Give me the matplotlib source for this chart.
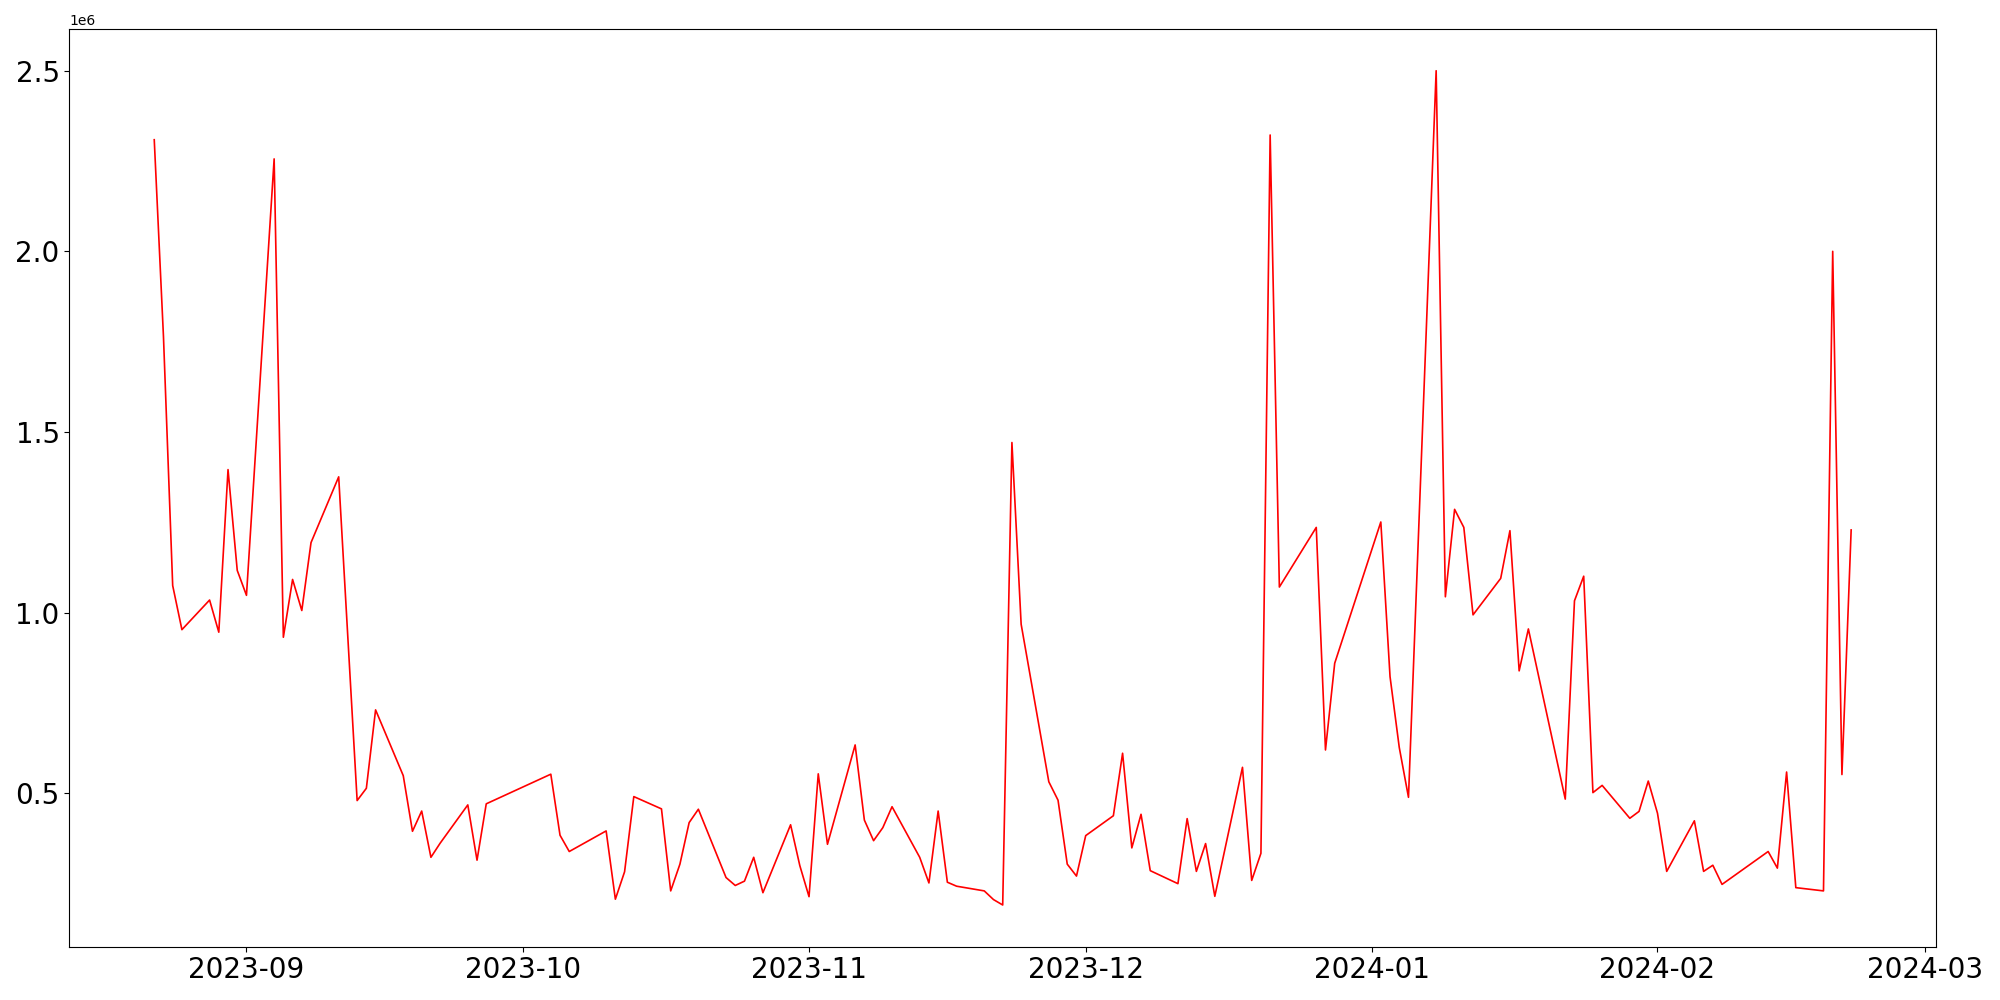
import matplotlib
matplotlib.use('Agg')
import matplotlib.pyplot as plt
import pandas as pd

dates = [
    '2023-08-22', '2023-08-23', '2023-08-24', '2023-08-25', '2023-08-28', '2023-08-29',
    '2023-08-30', '2023-08-31', '2023-09-01', '2023-09-04', '2023-09-05', '2023-09-06',
    '2023-09-07', '2023-09-08', '2023-09-11', '2023-09-13', '2023-09-14', '2023-09-15',
    '2023-09-18', '2023-09-19', '2023-09-20', '2023-09-21', '2023-09-22', '2023-09-25',
    '2023-09-26', '2023-09-27', '2023-10-04', '2023-10-05', '2023-10-06', '2023-10-10',
    '2023-10-11', '2023-10-12', '2023-10-13', '2023-10-16', '2023-10-17', '2023-10-18',
    '2023-10-19', '2023-10-20', '2023-10-23', '2023-10-24', '2023-10-25', '2023-10-26',
    '2023-10-27', '2023-10-30', '2023-10-31', '2023-11-01', '2023-11-02', '2023-11-03',
    '2023-11-06', '2023-11-07', '2023-11-08', '2023-11-09', '2023-11-10', '2023-11-13',
    '2023-11-14', '2023-11-15', '2023-11-16', '2023-11-17', '2023-11-20', '2023-11-21',
    '2023-11-22', '2023-11-23', '2023-11-24', '2023-11-27', '2023-11-28', '2023-11-29',
    '2023-11-30', '2023-12-01', '2023-12-04', '2023-12-05', '2023-12-06', '2023-12-07',
    '2023-12-08', '2023-12-11', '2023-12-12', '2023-12-13', '2023-12-14', '2023-12-15',
    '2023-12-18', '2023-12-19', '2023-12-20', '2023-12-21', '2023-12-22', '2023-12-26',
    '2023-12-27', '2023-12-28', '2024-01-02', '2024-01-03', '2024-01-04', '2024-01-05',
    '2024-01-08', '2024-01-09', '2024-01-10', '2024-01-11', '2024-01-12', '2024-01-15',
    '2024-01-16', '2024-01-17', '2024-01-18', '2024-01-22', '2024-01-23', '2024-01-24',
    '2024-01-25', '2024-01-26', '2024-01-29', '2024-01-30', '2024-01-31', '2024-02-01',
    '2024-02-02', '2024-02-05', '2024-02-06', '2024-02-07', '2024-02-08', '2024-02-13',
    '2024-02-14', '2024-02-15', '2024-02-16', '2024-02-19', '2024-02-20', '2024-02-21',
    '2024-02-22',
]

# values in millions
volume_m = [
    2.309, 1.764, 1.075, 0.953, 1.035, 0.946,
    1.396, 1.117, 1.048, 2.256, 0.932, 1.092,
    1.006, 1.194, 1.376, 0.480, 0.514, 0.731,
    0.549, 0.395, 0.451, 0.323, 0.362, 0.468,
    0.315, 0.471, 0.553, 0.384, 0.339, 0.396,
    0.207, 0.283, 0.491, 0.457, 0.230, 0.304,
    0.419, 0.456, 0.267, 0.245, 0.257, 0.323,
    0.225, 0.413, 0.300, 0.214, 0.554, 0.359,
    0.634, 0.426, 0.369, 0.405, 0.463, 0.323,
    0.252, 0.451, 0.254, 0.243, 0.230, 0.206,
    0.191, 1.471, 0.968, 0.532, 0.481, 0.304,
    0.271, 0.383, 0.438, 0.611, 0.349, 0.442,
    0.286, 0.250, 0.430, 0.284, 0.361, 0.215,
    0.572, 0.259, 0.334, 2.322, 1.071, 1.236,
    0.620, 0.860, 1.251, 0.823, 0.627, 0.489,
    2.500, 1.044, 1.286, 1.236, 0.994, 1.095,
    1.227, 0.839, 0.955, 0.484, 1.033, 1.101,
    0.502, 0.522, 0.431, 0.450, 0.534, 0.445,
    0.284, 0.424, 0.284, 0.301, 0.248, 0.339,
    0.293, 0.559, 0.239, 0.230, 2.000, 0.552,
    1.229,
]

x = pd.to_datetime(dates)
y = [v * 1e6 for v in volume_m]

fig = plt.figure(figsize=(20, 10), dpi=100)
plt.plot(x, y, color='red', linewidth=1.2)
plt.xticks(fontsize=20)
plt.yticks(fontsize=20)
plt.subplots_adjust(left=0.0347, right=0.968, top=0.971, bottom=0.0533)
plt.savefig('out.png')
